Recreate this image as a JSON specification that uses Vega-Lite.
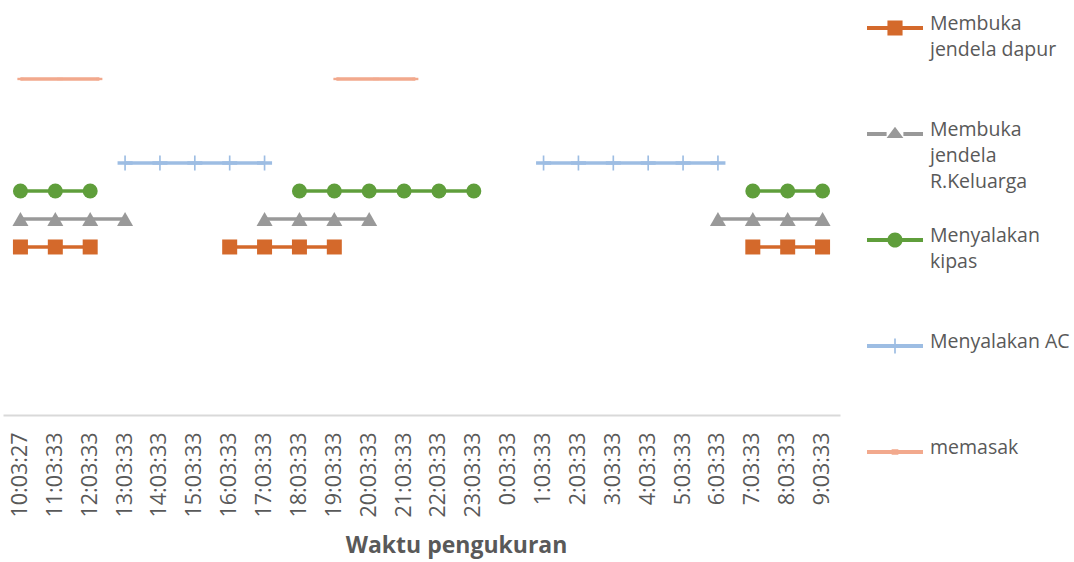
{
  "$schema": "https://vega.github.io/schema/vega-lite/v6.json",
  "width": 837,
  "height": 415,
  "autosize": {"type": "none"},
  "padding": {"left": 3, "top": 0, "right": 234, "bottom": 147},
  "background": "#ffffff",
  "config": {
    "view": {"stroke": null},
    "font": "Open Sans"
  },
  "datasets": {
    "kegiatan": [
      {"waktu": "10:03:27", "seri": "Membuka jendela dapur", "nilai": 6, "seg": "d1"},
      {"waktu": "11:03:33", "seri": "Membuka jendela dapur", "nilai": 6, "seg": "d1"},
      {"waktu": "12:03:33", "seri": "Membuka jendela dapur", "nilai": 6, "seg": "d1"},
      {"waktu": "16:03:33", "seri": "Membuka jendela dapur", "nilai": 6, "seg": "d2"},
      {"waktu": "17:03:33", "seri": "Membuka jendela dapur", "nilai": 6, "seg": "d2"},
      {"waktu": "18:03:33", "seri": "Membuka jendela dapur", "nilai": 6, "seg": "d2"},
      {"waktu": "19:03:33", "seri": "Membuka jendela dapur", "nilai": 6, "seg": "d2"},
      {"waktu": "7:03:33", "seri": "Membuka jendela dapur", "nilai": 6, "seg": "d3"},
      {"waktu": "8:03:33", "seri": "Membuka jendela dapur", "nilai": 6, "seg": "d3"},
      {"waktu": "9:03:33", "seri": "Membuka jendela dapur", "nilai": 6, "seg": "d3"},

      {"waktu": "10:03:27", "seri": "Membuka jendela R.Keluarga", "nilai": 7, "seg": "k1"},
      {"waktu": "11:03:33", "seri": "Membuka jendela R.Keluarga", "nilai": 7, "seg": "k1"},
      {"waktu": "12:03:33", "seri": "Membuka jendela R.Keluarga", "nilai": 7, "seg": "k1"},
      {"waktu": "13:03:33", "seri": "Membuka jendela R.Keluarga", "nilai": 7, "seg": "k1"},
      {"waktu": "17:03:33", "seri": "Membuka jendela R.Keluarga", "nilai": 7, "seg": "k2"},
      {"waktu": "18:03:33", "seri": "Membuka jendela R.Keluarga", "nilai": 7, "seg": "k2"},
      {"waktu": "19:03:33", "seri": "Membuka jendela R.Keluarga", "nilai": 7, "seg": "k2"},
      {"waktu": "20:03:33", "seri": "Membuka jendela R.Keluarga", "nilai": 7, "seg": "k2"},
      {"waktu": "6:03:33", "seri": "Membuka jendela R.Keluarga", "nilai": 7, "seg": "k3"},
      {"waktu": "7:03:33", "seri": "Membuka jendela R.Keluarga", "nilai": 7, "seg": "k3"},
      {"waktu": "8:03:33", "seri": "Membuka jendela R.Keluarga", "nilai": 7, "seg": "k3"},
      {"waktu": "9:03:33", "seri": "Membuka jendela R.Keluarga", "nilai": 7, "seg": "k3"},

      {"waktu": "10:03:27", "seri": "Menyalakan kipas", "nilai": 8, "seg": "p1"},
      {"waktu": "11:03:33", "seri": "Menyalakan kipas", "nilai": 8, "seg": "p1"},
      {"waktu": "12:03:33", "seri": "Menyalakan kipas", "nilai": 8, "seg": "p1"},
      {"waktu": "18:03:33", "seri": "Menyalakan kipas", "nilai": 8, "seg": "p2"},
      {"waktu": "19:03:33", "seri": "Menyalakan kipas", "nilai": 8, "seg": "p2"},
      {"waktu": "20:03:33", "seri": "Menyalakan kipas", "nilai": 8, "seg": "p2"},
      {"waktu": "21:03:33", "seri": "Menyalakan kipas", "nilai": 8, "seg": "p2"},
      {"waktu": "22:03:33", "seri": "Menyalakan kipas", "nilai": 8, "seg": "p2"},
      {"waktu": "23:03:33", "seri": "Menyalakan kipas", "nilai": 8, "seg": "p2"},
      {"waktu": "7:03:33", "seri": "Menyalakan kipas", "nilai": 8, "seg": "p3"},
      {"waktu": "8:03:33", "seri": "Menyalakan kipas", "nilai": 8, "seg": "p3"},
      {"waktu": "9:03:33", "seri": "Menyalakan kipas", "nilai": 8, "seg": "p3"},

      {"waktu": "13:03:33", "seri": "Menyalakan AC", "nilai": 9, "seg": "a1"},
      {"waktu": "14:03:33", "seri": "Menyalakan AC", "nilai": 9, "seg": "a1"},
      {"waktu": "15:03:33", "seri": "Menyalakan AC", "nilai": 9, "seg": "a1"},
      {"waktu": "16:03:33", "seri": "Menyalakan AC", "nilai": 9, "seg": "a1"},
      {"waktu": "17:03:33", "seri": "Menyalakan AC", "nilai": 9, "seg": "a1"},
      {"waktu": "1:03:33", "seri": "Menyalakan AC", "nilai": 9, "seg": "a2"},
      {"waktu": "2:03:33", "seri": "Menyalakan AC", "nilai": 9, "seg": "a2"},
      {"waktu": "3:03:33", "seri": "Menyalakan AC", "nilai": 9, "seg": "a2"},
      {"waktu": "4:03:33", "seri": "Menyalakan AC", "nilai": 9, "seg": "a2"},
      {"waktu": "5:03:33", "seri": "Menyalakan AC", "nilai": 9, "seg": "a2"},
      {"waktu": "6:03:33", "seri": "Menyalakan AC", "nilai": 9, "seg": "a2"}
    ],
    "masak": [
      {"urutan": 0, "seri": "memasak", "nilai": 12, "seg": "m1"},
      {"urutan": 1, "seri": "memasak", "nilai": 12, "seg": "m1"},
      {"urutan": 2, "seri": "memasak", "nilai": 12, "seg": "m1"},
      {"urutan": 8, "seri": "memasak", "nilai": 12, "seg": "m2"},
      {"urutan": 9, "seri": "memasak", "nilai": 12, "seg": "m2"},
      {"urutan": 10, "seri": "memasak", "nilai": 12, "seg": "m2"}
    ]
  },
  "resolve": {"scale": {"x": "independent"}},
  "layer": [
    {
      "data": {"name": "kegiatan"},
      "encoding": {
        "x": {
          "field": "waktu",
          "type": "ordinal",
          "scale": {
            "type": "point",
            "padding": 0.5,
            "domain": ["10:03:27", "11:03:33", "12:03:33", "13:03:33", "14:03:33", "15:03:33", "16:03:33", "17:03:33", "18:03:33", "19:03:33", "20:03:33", "21:03:33", "22:03:33", "23:03:33", "0:03:33", "1:03:33", "2:03:33", "3:03:33", "4:03:33", "5:03:33", "6:03:33", "7:03:33", "8:03:33", "9:03:33"]
          },
          "axis": {
            "title": "Waktu pengukuran",
            "titleFont": "Open Sans",
            "titleFontSize": 23,
            "titleFontWeight": "bold",
            "titleColor": "#595959",
            "titleX": 453,
            "titlePadding": 17,
            "labelAngle": 270,
            "labelFont": "Open Sans",
            "labelFontSize": 21.5,
            "labelColor": "#595959",
            "labelPadding": 17,
            "ticks": false,
            "tickSize": 0,
            "grid": false,
            "domainColor": "#d9d9d9",
            "domainWidth": 2,
            "labelOverlap": false
          }
        },
        "y": {
          "field": "nilai",
          "type": "quantitative",
          "scale": {"domain": [0, 14.82], "nice": false, "zero": false},
          "axis": null
        },
        "color": {
          "field": "seri",
          "type": "nominal",
          "scale": {
            "domain": ["Membuka jendela dapur", "Membuka jendela R.Keluarga", "Menyalakan kipas", "Menyalakan AC", "memasak"],
            "range": ["#d4692b", "#999999", "#5f9e3b", "#9dbde3", "#f2a98d"]
          },
          "legend": {
            "title": null,
            "orient": "none",
            "legendX": 864,
            "legendY": 0,
            "padding": 0,
            "rowPadding": 20,
            "symbolSize": 3136,
            "labelOffset": 7,
            "labelFont": "Open Sans",
            "labelFontSize": 19.5,
            "labelColor": "#595959",
            "labelLimit": 300,
            "labelExpr": "datum.label === 'Membuka jendela dapur' ? ['Membuka', 'jendela dapur', ''] : datum.label === 'Membuka jendela R.Keluarga' ? ['Membuka', 'jendela', 'R.Keluarga'] : datum.label === 'Menyalakan kipas' ? ['Menyalakan', 'kipas', ''] : [datum.label, '', '']",
            "encode": {
              "symbols": {
                "update": {
                  "shape": {"signal": "datum.value === 'Membuka jendela dapur' ? 'M-1,-0.07H-0.27V0.07H-1Z M0.27,-0.07H1V0.07H0.27Z M-0.27,-0.27H0.27V0.27H-0.27Z' : datum.value === 'Membuka jendela R.Keluarga' ? 'M-1,-0.07H-0.3V0.07H-1Z M0.3,-0.07H1V0.07H0.3Z M0,-0.26L0.3,0.14L-0.3,0.14Z' : datum.value === 'Menyalakan kipas' ? 'M-1,-0.07H-0.26V0.07H-1Z M0.26,-0.07H1V0.07H0.26Z M-0.27,0A0.27,0.27 0 1,1 0.27,0A0.27,0.27 0 1,1 -0.27,0Z' : datum.value === 'Menyalakan AC' ? 'M-1,-0.07H-0.03V-0.27H0.03V-0.07H1V0.07H0.03V0.27H-0.03V0.07H-1Z' : 'M-1,-0.07H-0.12V-0.1H0.12V-0.07H1V0.07H0.12V0.1H-0.12V0.07H-1Z'"},
                  "fill": {"scale": "color", "field": "value"},
                  "fillOpacity": {"value": 1},
                  "stroke": {"value": "transparent"},
                  "strokeWidth": {"value": 0}
                }
              },
              "labels": {
                "update": {
                  "lineHeight": {"value": 26},
                  "baseline": {"value": "top"},
                  "dy": {"value": -13}
                }
              }
            }
          }
        }
      },
      "layer": [
        {
          "mark": {"type": "line", "strokeWidth": 3.5, "strokeCap": "butt"},
          "encoding": {"detail": {"field": "seg"}}
        },
        {
          "transform": [{"filter": "datum.seri === 'Membuka jendela dapur'"}],
          "mark": {"type": "point", "shape": "square", "filled": true, "opacity": 1, "size": 225}
        },
        {
          "transform": [{"filter": "datum.seri === 'Membuka jendela R.Keluarga'"}],
          "mark": {"type": "point", "shape": "triangle-up", "filled": true, "opacity": 1, "size": 256}
        },
        {
          "transform": [{"filter": "datum.seri === 'Menyalakan kipas'"}],
          "mark": {"type": "point", "shape": "circle", "filled": true, "opacity": 1, "size": 225}
        },
        {
          "transform": [{"filter": "datum.seri === 'Menyalakan AC'"}],
          "mark": {"type": "point", "shape": "M-1,-0.23H-0.11V-1H0.11V-0.23H1V0.23H0.11V1H-0.11V0.23H-1Z", "filled": true, "opacity": 1, "size": 225}
        }
      ]
    },
    {
      "data": {"name": "masak"},
      "encoding": {
        "x": {
          "field": "urutan",
          "type": "quantitative",
          "scale": {"domain": [-0.44, 20.75], "nice": false, "zero": false},
          "axis": null
        },
        "y": {"field": "nilai", "type": "quantitative"},
        "color": {"field": "seri", "type": "nominal"}
      },
      "layer": [
        {
          "mark": {"type": "line", "strokeWidth": 3.5, "strokeCap": "butt"},
          "encoding": {"detail": {"field": "seg"}}
        },
        {
          "mark": {"type": "point", "shape": "M-1,-0.4H1V0.4H-1Z", "filled": true, "opacity": 1, "size": 36}
        }
      ]
    }
  ]
}
